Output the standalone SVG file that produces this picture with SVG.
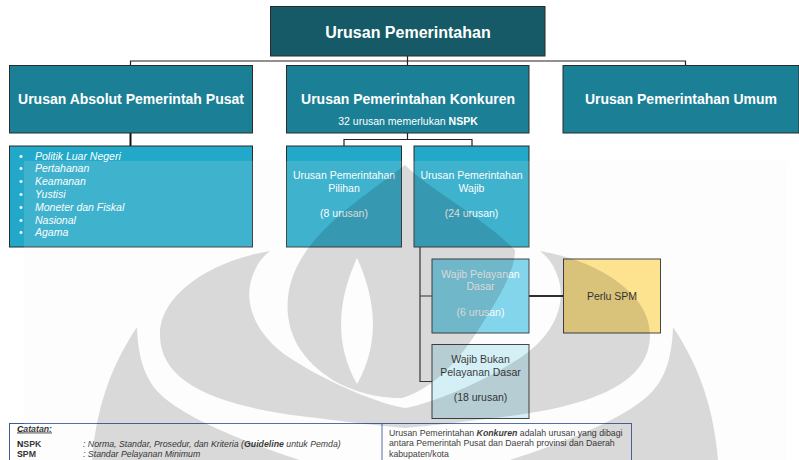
<svg xmlns="http://www.w3.org/2000/svg" width="799" height="460" viewBox="0 0 799 460">
<style>
text{font-family:"Liberation Sans",Arial,Helvetica,sans-serif}
.bx{stroke:#2b2b2b;stroke-width:1}
.t1{font-size:16px;font-weight:bold;fill:#fff}
.t2{font-size:14px;font-weight:bold;fill:#fff}
.s{font-size:10.5px;fill:#fff}
.si{font-size:10.5px;fill:#fff;font-style:italic}
.d{font-size:10.5px;fill:#1a1a1a}
.n{font-size:8.75px;fill:#1a1a1a}
.c{fill:none;stroke:#222;stroke-width:1.2}
.ct{fill:none;stroke:#111;stroke-width:2}
.sub{fill:#22a9c9}
.wm{fill:#000;fill-opacity:0.14;fill-rule:evenodd}
</style>
<rect width="799" height="460" fill="#fff"/>

<g id="connectors">
<path class="c" d="M407.5 56V61M130.5 65V61H685.5V65M407.5 61V65"/>
<path class="ct" d="M130.5 133V146"/>
<path class="c" d="M407.5 133V139.5M344 146V139.5H472V146"/>
<path class="c" stroke-width="1.5" d="M420 247V381.5H432M420 296H432"/>
<path class="ct" d="M529 296H563"/>
</g>

<g id="n-top">
<rect class="bx" x="270.5" y="6.5" width="274.5" height="49.5" fill="#155a66"/>
<text class="t1" x="408" y="37.5" text-anchor="middle">Urusan Pemerintahan</text>
</g>

<g id="n-absolut">
<rect class="bx" x="9.5" y="65.5" width="243" height="67.5" fill="#1b8096"/>
<text class="t2" x="131" y="103.5" text-anchor="middle">Urusan Absolut Pemerintah Pusat</text>
</g>

<g id="n-konkuren">
<rect class="bx" x="286.5" y="65.5" width="242.5" height="67.5" fill="#1b8096"/>
<text class="t2" x="408" y="103.5" text-anchor="middle">Urusan Pemerintahan Konkuren</text>
<text class="s" x="408" y="124.5" text-anchor="middle">32 urusan memerlukan <tspan font-weight="bold">NSPK</tspan></text>
</g>

<g id="n-umum">
<rect class="bx" x="563" y="65.5" width="236" height="67.5" fill="#1b8096"/>
<text class="t2" x="681" y="103.5" text-anchor="middle">Urusan Pemerintahan Umum</text>
</g>

<g id="n-list">
<rect class="bx sub" x="9.5" y="146" width="243" height="101"/>
<g class="si">
<text x="19" y="159.5" font-style="normal">•</text><text x="35" y="159.5">Politik Luar Negeri</text>
<text x="19" y="172.3" font-style="normal">•</text><text x="35" y="172.3">Pertahanan</text>
<text x="19" y="185.1" font-style="normal">•</text><text x="35" y="185.1">Keamanan</text>
<text x="19" y="197.9" font-style="normal">•</text><text x="35" y="197.9">Yustisi</text>
<text x="19" y="210.7" font-style="normal">•</text><text x="35" y="210.7">Moneter dan Fiskal</text>
<text x="19" y="223.5" font-style="normal">•</text><text x="35" y="223.5">Nasional</text>
<text x="19" y="236.3" font-style="normal">•</text><text x="35" y="236.3">Agama</text>
</g>
</g>

<g id="n-pilihan">
<rect class="bx sub" x="286.5" y="146" width="115" height="101"/>
<g class="s" text-anchor="middle">
<text x="344" y="179">Urusan Pemerintahan</text>
<text x="344" y="191.5">Pilihan</text>
<text x="344" y="216.5">(8 urusan)</text>
</g>
</g>

<g id="n-wajib">
<rect class="bx sub" x="414" y="146" width="115" height="101"/>
<g class="s" text-anchor="middle">
<text x="471.5" y="179">Urusan Pemerintahan</text>
<text x="471.5" y="191.5">Wajib</text>
<text x="471.5" y="216.5">(24 urusan)</text>
</g>
</g>

<g id="n-wpd">
<rect class="bx" x="432" y="259" width="97" height="74" fill="#70d1ea"/>
<g class="s" text-anchor="middle">
<text x="480.5" y="278">Wajib Pelayanan</text>
<text x="480.5" y="289.5">Dasar</text>
<text x="480.5" y="316">(6 urusan)</text>
</g>
</g>

<g id="n-spm">
<rect class="bx" x="563.5" y="259" width="97" height="74" fill="#ffe07f"/>
<text class="d" x="612" y="300" text-anchor="middle">Perlu SPM</text>
</g>

<g id="n-wbpd">
<rect class="bx" x="432" y="344.5" width="97" height="74" fill="#d0eff7"/>
<g class="d" text-anchor="middle">
<text x="480.5" y="363">Wajib Bukan</text>
<text x="480.5" y="376">Pelayanan Dasar</text>
<text x="480.5" y="401">(18 urusan)</text>
</g>
</g>

<g id="n-note">
<rect x="9.5" y="423.5" width="622" height="50" fill="none" stroke="#3a5a9c" stroke-width="1"/>
<line x1="382" y1="423.5" x2="382" y2="460" stroke="#3a5a9c" stroke-width="1"/>
<text class="n" x="17" y="431.5" font-weight="bold" font-style="italic" text-decoration="underline">Catatan:</text>
<text class="n" x="17" y="447" font-weight="bold">NSPK</text>
<text class="n" x="83" y="447" font-style="italic">: Norma, Standar, Prosedur, dan Kriteria (<tspan font-weight="bold">Guideline</tspan> untuk Pemda)</text>
<text class="n" x="17" y="456.5" font-weight="bold">SPM</text>
<text class="n" x="83" y="456.5" font-style="italic">: Standar Pelayanan Minimum</text>
<text class="n" x="389" y="435.5">Urusan Pemerintahan <tspan font-weight="bold" font-style="italic">Konkuren</tspan> adalah urusan yang dibagi</text>
<text class="n" x="389" y="446">antara Pemerintah Pusat dan Daerah provinsi  dan Daerah</text>
<text class="n" x="389" y="456.5">kabupaten/kota</text>
</g>

<g id="watermark" pointer-events="none">
<rect x="24" y="161" width="763" height="299" fill="#eee" fill-opacity="0.14"/>
<path class="wm" d="M405 165C360 200 300 235 289 290C282 330 300 362 340 384C365 396 385 398 402 398C430 390 455 365 475 335C498 300 515 272 515 250C480 215 430 190 405 165ZM357 258C340 295 332 340 357 384C382 340 374 295 357 258Z"/>
<path class="wm" d="M270 251C215 260 160 292 160 335C160 382 215 405 300 416C340 421 380 426 405 428V408C380 404 330 384 290 358C255 335 240 300 255 270C258 262 264 256 270 251Z"/>
<path class="wm" d="M540 251C595 260 650 292 650 335C650 382 595 405 510 416C470 421 430 426 405 428V408C430 404 480 384 520 358C555 335 570 300 555 270C552 262 546 256 540 251Z"/>
<path class="wm" d="M137 327C115 360 97 400 92 460H300C245 442 195 422 167 400C146 384 138 360 137 327Z"/>
<path class="wm" d="M673 327C695 360 713 400 718 460H510C565 442 615 422 643 400C664 384 672 360 673 327Z"/>
</g>
</svg>
